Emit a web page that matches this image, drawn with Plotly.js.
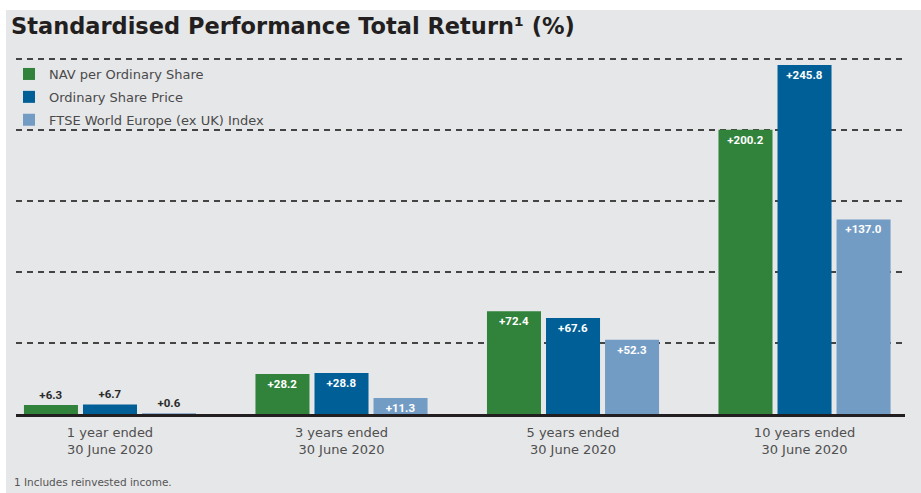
<!DOCTYPE html>
<html>
<head>
<meta charset="utf-8">
<script src="https://cdn.plot.ly/plotly-3.0.1.min.js"></script>
<style>
  html, body { margin: 0; padding: 0; background: #ffffff; }
  #chart { position: absolute; left: 6px; top: 10px; width: 915px; height: 483px; }
</style>
</head>
<body>
<div id="chart"></div>
<script>
// ---- Data ----
const categories = [
  "1 year ended<br>30 June 2020",
  "3 years ended<br>30 June 2020",
  "5 years ended<br>30 June 2020",
  "10 years ended<br>30 June 2020"
];
const navPerShare   = [6.3, 28.2, 72.4, 200.2];
const sharePrice    = [6.7, 28.8, 67.6, 245.8];
const ftseIndex     = [0.6, 11.3, 52.3, 137.0];
const seriesNames = [
  "NAV per Ordinary Share",
  "Ordinary Share Price",
  "FTSE World Europe (ex UK) Index"
];
const titleText = "Standardised Performance Total Return¹ (%)";
const footnoteText = "1 Includes reinvested income.";

// ---- Styles ----
const colors = ["#31823b", "#005f96", "#739cc5"];
const labelFont = "Roboto, 'Liberation Sans', Arial, sans-serif";
const bodyFont = "'DejaVu Sans', Arial, sans-serif";

function positions(vals) {
  return vals.map(v => (v < 8 ? "outside" : "inside"));
}

const allSeries = [navPerShare, sharePrice, ftseIndex];
const traces = allSeries.map((vals, i) => ({
  type: "bar",
  name: seriesNames[i],
  legendgroup: "g" + i,
  x: categories,
  y: vals,
  marker: { color: colors[i], line: { width: 0 } },
  texttemplate: "+%{y:.1f}",
  textposition: positions(vals),
  insidetextanchor: "end",
  constraintext: "none",
  textangle: 0,
  insidetextfont: { family: labelFont, size: 11.5, color: "#ffffff", weight: 700 },
  outsidetextfont: { family: labelFont, size: 11.5, color: "#2a2a2a", weight: 700 },
  cliponaxis: false,
  hoverinfo: "skip"
}));

const layout = {
  width: 915,
  height: 483,
  paper_bgcolor: "#e6e7e9",
  plot_bgcolor: "#e6e7e9",
  margin: { l: 10, r: 16, t: 46, b: 79, pad: 0, autoexpand: false },
  barmode: "group",
  bargap: 0.235,
  bargroupgap: 0.085,
  title: {
    text: titleText,
    font: { family: "'DejaVu Sans', Arial, sans-serif", size: 22.5, color: "#231f20", weight: 700 },
    xref: "container", yref: "container",
    x: 5 / 915, xanchor: "left",
    y: 1 - 16 / 483, yanchor: "middle"
  },
  showlegend: true,
  legend: {
    x: -0.0079, xanchor: "left",
    y: 0.9916, yanchor: "top",
    bgcolor: "rgba(0,0,0,0)",
    borderwidth: 0,
    traceorder: "grouped",
    tracegroupgap: 3,
    font: { family: bodyFont, size: 13, color: "#4a4a4a" }
  },
  xaxis: {
    type: "category",
    range: [-0.406, 3.434],
    showgrid: false,
    zeroline: false,
    showline: true,
    linecolor: "#231f20",
    linewidth: 2.5,
    ticks: "",
    ticklabelstandoff: 5,
    tickfont: { family: bodyFont, size: 13, color: "#4f4f4f" },
    fixedrange: true
  },
  yaxis: {
    range: [0, 252.11],
    dtick: 50,
    tick0: 0,
    showgrid: true,
    gridcolor: "#444444",
    gridwidth: 2,
    griddash: "6px,5px",
    zeroline: false,
    showline: false,
    showticklabels: false,
    ticks: "",
    fixedrange: true
  },
  annotations: [{
    text: footnoteText,
    xref: "paper", yref: "paper",
    x: -0.0045, xanchor: "left",
    y: -0.189, yanchor: "middle",
    showarrow: false,
    font: { family: bodyFont, size: 10.5, color: "#555555" }
  }]
};

Plotly.newPlot("chart", traces, layout, { staticPlot: true, displayModeBar: false });
</script>
</body>
</html>
